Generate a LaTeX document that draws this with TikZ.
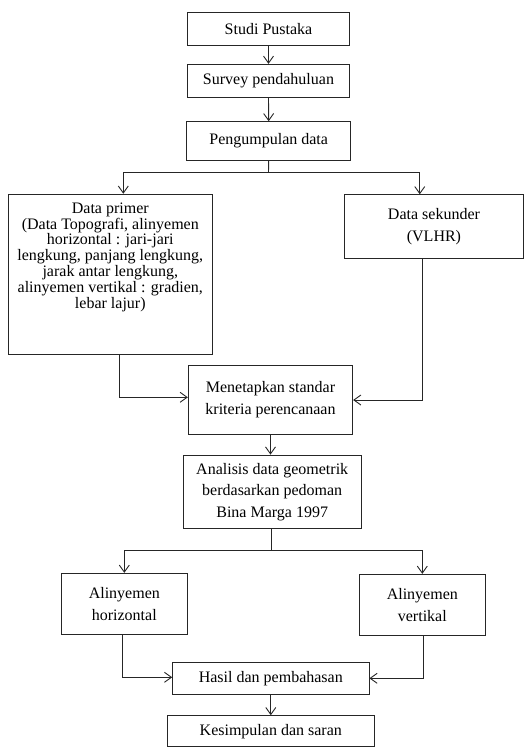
\documentclass[tikz,border=0pt]{standalone}
\usepackage{fontspec}
\setmainfont{Liberation Serif}
\usetikzlibrary{arrows.meta}
\begin{document}
\begin{tikzpicture}[x=1pt,y=1pt,
  box/.style={draw=black!85, line width=0.9pt, inner sep=0pt, align=center,
    font=\fontsize{16}{21.5}\selectfont},
  tight/.style={inner sep=0pt, align=center, font=\fontsize{16}{15.8}\selectfont},
  arr/.style={draw=black!85, line width=0.9pt, -{Straight Barb[length=7pt,width=10pt,line width=0.9pt]}},
  ln/.style={draw=black!85, line width=0.9pt}]
\useasboundingbox (0,0) rectangle (525,-747);
\node[box, minimum width=161.6pt, minimum height=33pt] (b1) at (268.5,-29.2) {Studi Pustaka};
\node[box, minimum width=161.6pt, minimum height=33pt] (b2) at (268.5,-80.8) {Survey pendahuluan};
\node[box, minimum width=164pt, minimum height=38.6pt] (b3) at (268.7,-141) {Pengumpulan data};
\node[box, minimum width=204pt, minimum height=160pt] (b4) at (110.3,-274.2) {};
\node[tight, anchor=base] (b4t) at (110.3,-308)
  {Data primer\\ (Data Topografi, alinyemen\\ horizontal : jari-jari\\ lengkung, panjang lengkung,\\ jarak antar lengkung,\\ alinyemen vertikal : gradien,\\ lebar lajur)};
\node[box, minimum width=178.4pt, minimum height=64pt, anchor=north west] (b5) at (344.3,-194.3) {Data sekunder\\(VLHR)};
\node[box, minimum width=164.4pt, minimum height=69pt] (b6) at (270.5,-399.5) {Menetapkan standar\\kriteria perencanaan};
\node[box, minimum width=177.7pt, minimum height=73.3pt] (b7) at (272.2,-491.7) {Analisis data geometrik\\berdasarkan pedoman\\Bina Marga 1997};
\node[box, minimum width=126.7pt, minimum height=61pt] (b8) at (124.3,-603.8) {Alinyemen\\horizontal};
\node[box, minimum width=126.7pt, minimum height=61pt] (b9) at (422.3,-604.8) {Alinyemen\\vertikal};
\node[box, minimum width=196.3pt, minimum height=32pt] (b10) at (270.8,-678.3) {Hasil dan pembahasan};
\node[box, minimum width=206.3pt, minimum height=31pt] (b11) at (270.8,-731.2) {Kesimpulan dan saran};
\coordinate (s1) at (268.5,-172.3);
\coordinate (s2) at (271,-550.7);
\draw[arr] (b1.south) -- (b2.north);
\draw[arr] (b2.south) -- (b3.north);
\draw[ln] (b3.south) -- (s1);
\draw[arr] (s1) -| ([xshift=13pt]b4.north);
\draw[arr] (s1) -| ([xshift=-14.2pt]b5.north);
\draw[arr] ([xshift=8.7pt]b4.south) |- ([yshift=2.2pt]b6.west);
\draw[arr] ([xshift=-11.8pt]b5.south) |- ([yshift=-0.5pt]b6.east);
\draw[arr] (b6.south) -- (b6.south |- b7.north);
\draw[ln] (b7.south -| s2) -- (s2);
\draw[arr] (s2) -| (b8.north);
\draw[arr] (s2) -| (b9.north);
\draw[arr] ([xshift=-1.6pt]b8.south) |- ([yshift=1pt]b10.west);
\draw[arr] ([xshift=1pt]b9.south) |- (b10.east);
\draw[arr] (b10.south) -- (b11.north);
\end{tikzpicture}
\end{document}
